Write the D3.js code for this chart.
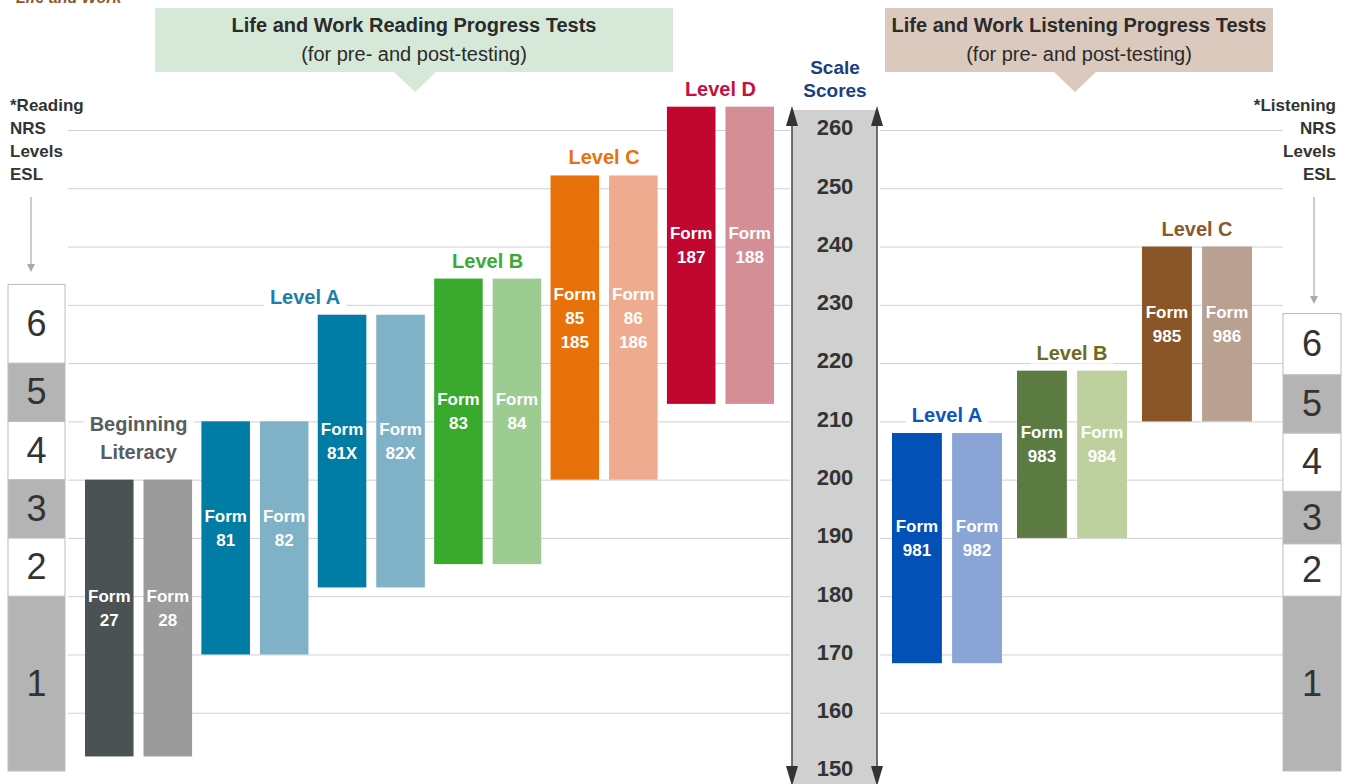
<!DOCTYPE html>
<html>
<head>
<meta charset="utf-8">
<script src="https://cdn.jsdelivr.net/npm/d3@7"></script>
<style>
  body { margin: 0; background: #fff; }
  svg { display: block; font-family: "Liberation Sans", Arial, sans-serif; }
</style>
</head>
<body>
<svg id="chart" width="1346" height="784"></svg>
<script>
// Scale score ticks (centre column) and grid lines
const scaleTicks = [150, 160, 170, 180, 190, 200, 210, 220, 230, 240, 250, 260];
const gridTicks = [160, 170, 180, 190, 200, 210, 220, 230, 240, 250, 260];

// Reading progress tests (pairs of forms)
const readingPairs = ['27/28', '81/82', '81X/82X', '83/84', '85/86', '187/188'];
const readingLow = [152.5, 170, 181.5, 185.5, 200, 213];
const readingHigh = [200, 210, 228.3, 234.5, 252.2, 264];
const readingForms = [['27', '28'], ['81', '82'], ['81X', '82X'], ['83', '84'], ['85\n185', '86\n186'], ['187', '188']];
const readingPairLevel = [0, 1, 1, 2, 3, 4];
const readingLevels = ['Beginning\nLiteracy', 'Level A', 'Level B', 'Level C', 'Level D'];
const readingLevelColors = ['#575d60', '#1a7fab', '#3aaa35', '#e8720c', '#c8103c'];
const readingDark = ['#4a5254', '#007ca5', '#007ca5', '#3aaa2f', '#e8710a', '#c1062f'];
const readingLight = ['#9b9b9b', '#7fb1c7', '#7fb1c7', '#9ccc92', '#eeab90', '#d48f96'];

// Listening progress tests
const listeningPairs = ['981/982', '983/984', '985/986'];
const listeningLow = [168.5, 190, 210];
const listeningHigh = [208, 218.7, 240];
const listeningForms = [['981', '982'], ['983', '984'], ['985', '986']];
const listeningPairLevel = [0, 1, 2];
const listeningLevels = ['Level A', 'Level B', 'Level C'];
const listeningLevelColors = ['#0b57bf', '#6e6a1f', '#8b5a2b'];
const listeningDark = ['#0350b6', '#5b7b42', '#8b5627'];
const listeningLight = ['#8aa5d5', '#bed09d', '#b8a191'];

// NRS ESL levels
const nrsLevels = ['1', '2', '3', '4', '5', '6'];
const readingNrsBounds = [150, 180, 190, 200, 210, 220, 233.5];
const listeningNrsBounds = [150, 180, 189, 198, 208, 218, 228.5];

const svg = d3.select('#chart');
const FONT = '"Liberation Sans", Arial, sans-serif';

const y = d3.scaleLinear().domain([150, 260]).range([771, 130]);

// helper for multi-line text
function addLines(sel, str, lh) {
  const lines = str.split('\n');
  lines.forEach((t, i) => {
    sel.append('tspan')
      .attr('x', sel.attr('x'))
      .attr('dy', i === 0 ? 0 : lh)
      .text(t);
  });
  return lines.length;
}

// Top-left caption, cut off at the top edge as in the source
svg.append('text')
  .attr('x', 16).attr('y', 3)
  .attr('fill', '#8b5a2b')
  .style('font', `italic bold 16px ${FONT}`)
  .text('Life and Work');

// Grid lines
const gridL = svg.append('g').attr('transform', 'translate(790,0)')
  .call(d3.axisLeft(y).tickValues(gridTicks).tickSize(722).tickFormat(''));
gridL.select('.domain').remove();
gridL.selectAll('line').attr('stroke', '#d0d0d0');

const gridR = svg.append('g').attr('transform', 'translate(880,0)')
  .call(d3.axisRight(y).tickValues(gridTicks).tickSize(403).tickFormat(''));
gridR.select('.domain').remove();
gridR.selectAll('line').attr('stroke', '#d0d0d0');

// Banners
function banner(x0, x1, tip, fill, title) {
  const g = svg.append('g');
  g.append('rect').attr('x', x0).attr('y', 8).attr('width', x1 - x0).attr('height', 64).attr('fill', fill);
  g.append('path').attr('d', `M${tip - 21},72 L${tip + 21},72 L${tip},92 Z`).attr('fill', fill);
  const cx = (x0 + x1) / 2;
  g.append('text').attr('x', cx).attr('y', 32).attr('text-anchor', 'middle')
    .attr('fill', '#2b2b2b').style('font', `bold 20px ${FONT}`).text(title);
  g.append('text').attr('x', cx).attr('y', 61).attr('text-anchor', 'middle')
    .attr('fill', '#2b2b2b').style('font', `20px ${FONT}`).text('(for pre- and post-testing)');
}
banner(155, 673, 415, '#d6e9d9', 'Life and Work Reading Progress Tests');
banner(885, 1273, 1075, '#dcc9bd', 'Life and Work Listening Progress Tests');

// Scale scores column
svg.append('rect').attr('x', 792).attr('y', 110).attr('width', 85).attr('height', 674).attr('fill', '#d0d0d0');
[792, 877].forEach(ax => {
  svg.append('line').attr('x1', ax).attr('x2', ax).attr('y1', 120).attr('y2', 772)
    .attr('stroke', '#444').attr('stroke-width', 1.5);
  svg.append('path').attr('d', `M${ax},106 L${ax - 6},126 L${ax + 6},126 Z`).attr('fill', '#333');
  svg.append('path').attr('d', `M${ax},786 L${ax - 6},766 L${ax + 6},766 Z`).attr('fill', '#333');
});
const scaleAxis = svg.append('g').attr('transform', 'translate(835,0)')
  .call(d3.axisRight(y).tickValues(scaleTicks).tickSize(0).tickPadding(0));
scaleAxis.select('.domain').remove();
scaleAxis.selectAll('text')
  .attr('x', 0).attr('dy', '0.22em').attr('text-anchor', 'middle').attr('fill', '#333')
  .style('font', `bold 22px ${FONT}`);

const st = svg.append('text').attr('x', 835).attr('y', 74).attr('text-anchor', 'middle')
  .attr('fill', '#1b3f7f').style('font', `bold 19px ${FONT}`);
addLines(st, 'Scale\nScores', 23);

// NRS headings and level boxes
function nrs(x, w, anchorX, anchor, heading, arrowX, arrowEnd, bounds) {
  const t = svg.append('text').attr('x', anchorX).attr('y', 111).attr('text-anchor', anchor)
    .attr('fill', '#333').style('font', `bold 17px ${FONT}`);
  addLines(t, heading, 23);
  svg.append('line').attr('x1', arrowX).attr('x2', arrowX).attr('y1', 197).attr('y2', arrowEnd - 4)
    .attr('stroke', '#aaa').attr('stroke-width', 1.2);
  svg.append('path').attr('d', `M${arrowX},${arrowEnd} L${arrowX - 4},${arrowEnd - 8} L${arrowX + 4},${arrowEnd - 8} Z`)
    .attr('fill', '#aaa');
  const g = svg.append('g');
  nrsLevels.forEach((lv, i) => {
    const y0 = y(bounds[i + 1]), y1 = y(bounds[i]);
    g.append('rect').attr('x', x).attr('y', y0).attr('width', w).attr('height', y1 - y0)
      .attr('fill', i % 2 === 0 ? '#b4b4b4' : '#fff')
      .attr('stroke', '#bdbdbd').attr('stroke-width', 1);
    g.append('text').attr('x', x + w / 2).attr('y', (y0 + y1) / 2 + 12)
      .attr('text-anchor', 'middle').attr('fill', '#333')
      .style('font', `36px ${FONT}`).text(lv);
  });
}
nrs(8, 57, 10, 'start', '*Reading\nNRS\nLevels\nESL', 31, 272, readingNrsBounds);
nrs(1283, 58, 1336, 'end', '*Listening\nNRS\nLevels\nESL', 1314, 304, listeningNrsBounds);

// Bars
function drawTests(pairs, low, high, forms, pairLevel, levels, levelColors, dark, light, range, pad) {
  const x = d3.scaleBand().domain(pairs).range(range).paddingInner(pad);
  const xi = d3.scaleBand().domain([0, 1]).range([0, x.bandwidth()]).paddingInner(0.17);
  const g = svg.append('g');

  pairs.forEach((p, i) => {
    [0, 1].forEach(k => {
      const bx = x(p) + xi(k);
      const top = y(high[i]), bot = y(low[i]);
      g.append('rect')
        .attr('x', bx).attr('y', top)
        .attr('width', xi.bandwidth()).attr('height', bot - top)
        .attr('fill', k === 0 ? dark[i] : light[i]);
      const label = 'Form\n' + forms[i][k];
      const n = label.split('\n').length;
      const t = g.append('text')
        .attr('x', bx + xi.bandwidth() / 2)
        .attr('y', (top + bot) / 2 - 10 - (n - 1) * 12 + 6)
        .attr('text-anchor', 'middle').attr('fill', '#fff')
        .style('font', `bold 17px ${FONT}`);
      addLines(t, label, 24);
    });
  });

  // level labels over groups
  levels.forEach((name, li) => {
    const idx = pairLevel.map((v, i) => v === li ? i : -1).filter(i => i >= 0);
    const x0 = x(pairs[idx[0]]);
    const x1 = x(pairs[idx[idx.length - 1]]) + x.bandwidth();
    const top = y(d3.max(idx, i => high[i]));
    const n = name.split('\n').length;
    const lastCenter = top - 18 - (n > 1 ? 10 : 0);
    const lg = g.append('g');
    const t = lg.append('text')
      .attr('x', (x0 + x1) / 2 - (idx.length > 1 ? 8 : 0))
      .attr('y', lastCenter - (n - 1) * 28 + 7)
      .attr('text-anchor', 'middle').attr('fill', levelColors[li])
      .style('font', `bold 20px ${FONT}`);
    addLines(t, name, 28);
    const bb = t.node().getBBox();
    lg.insert('rect', 'text')
      .attr('x', bb.x - 6).attr('y', bb.y).attr('width', bb.width + 12).attr('height', bb.height)
      .attr('fill', '#fff');
  });
}

drawTests(readingPairs, readingLow, readingHigh, readingForms, readingPairLevel, readingLevels,
  readingLevelColors, readingDark, readingLight, [85, 774], 0.08);
drawTests(listeningPairs, listeningLow, listeningHigh, listeningForms, listeningPairLevel, listeningLevels,
  listeningLevelColors, listeningDark, listeningLight, [892, 1252], 0.12);
</script>
</body>
</html>
